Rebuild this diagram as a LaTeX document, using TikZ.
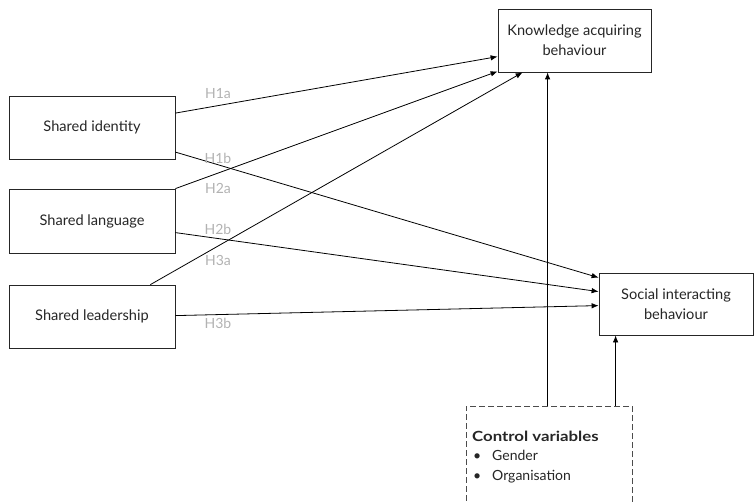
\documentclass[tikz,border=0pt]{standalone}
\usepackage{fontspec}
\setmainfont{Lato}
\usetikzlibrary{arrows.meta,calc}
\begin{document}
\begin{tikzpicture}[x=1pt,y=-1pt,
  box/.style={draw=black!85,line width=0.8pt,rectangle,inner sep=0pt,align=center,
    font=\fontsize{14.6}{20}\selectfont,text=black!85},
  arr/.style={line width=0.8pt,-{Latex[length=7pt,width=5.5pt]}},
  hyp/.style={text=black!30,font=\fontsize{14}{16}\selectfont,inner sep=0pt}]
\clip (0,0) rectangle (754,502);
% constructs
\node[box,minimum width=166pt,minimum height=63pt] (id) at (92,127.5) {Shared identity};
\node[box,minimum width=166pt,minimum height=64pt] (lang) at (92,221) {Shared language};
\node[box,minimum width=166pt,minimum height=63pt] (lead) at (92,316.5) {Shared leadership};
% outcomes
\node[box,minimum width=153pt,minimum height=63pt] (ka) at (574.5,40.5) {Knowledge acquiring\\behaviour};
\node[box,minimum width=154pt,minimum height=62pt] (si) at (676,304) {Social interacting\\behaviour};
% control variables
\node[draw=black!70,dash pattern=on 6pt off 3pt,line width=0.8pt,minimum width=166pt,minimum height=110pt,inner sep=0pt] (cv) at (549,461) {};
\node[anchor=north west,inner sep=0pt,align=left,text=black!85,font=\fontsize{14}{19.5}\selectfont] (cvt) at (472,430.5)
  {\scalebox{1.2}[1]{\textbf{Control variables}}\\
   \makebox[20pt][l]{\hspace{1pt}\textbullet}Gender\\
   \makebox[20pt][l]{\hspace{1pt}\textbullet}Organisation};
% anchor points of the control arrows
\coordinate (c1) at ($(cv.north west)+(82,0)$);
\coordinate (c2) at ($(cv.north west)+(150,0)$);
% paths
\draw[arr] ($(id.north east)+(0,17.5)$) -- ($(ka.north west)+(0,48)$);
\draw[arr] ($(id.north east)+(0,56.5)$) -- ($(si.north west)+(0,5)$);
\draw[arr] (lang.north east) -- ($(ka.south west)+(0,-1)$);
\draw[arr] ($(lang.north east)+(0,44)$) -- ($(si.north west)+(0,19)$);
\draw[arr] ($(lead.north east)+(-25,0)$) -- ($(ka.south west)+(25,0)$);
\draw[arr] ($(lead.north east)+(0,31)$) -- ($(si.north west)+(0,33)$);
\draw[arr] (c1) -- (c1 |- ka.south);
\draw[arr] (c2) -- (c2 |- si.south);
% hypothesis labels
\node[hyp] (h1a) at (218,94) {H1a};
\node[hyp] (h1b) at (218,158) {H1b};
\node[hyp] (h2a) at (218,188) {H2a};
\node[hyp] (h2b) at (218,229) {H2b};
\node[hyp] (h3a) at (218,260) {H3a};
\node[hyp] (h3b) at (218,323) {H3b};
\end{tikzpicture}
\end{document}
